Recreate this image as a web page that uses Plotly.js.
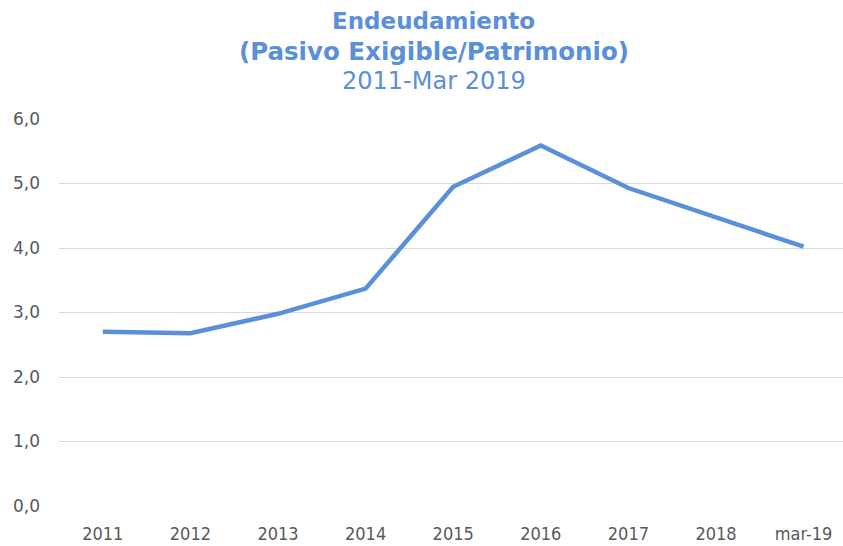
<!DOCTYPE html>
<html>
<head>
<meta charset="utf-8">
<script src="https://cdn.plot.ly/plotly-3.0.1.min.js"></script>
<style>html,body{margin:0;padding:0;background:#fff;}#chart{width:843px;height:546px;}</style>
</head>
<body>
<div id="chart"></div>
<script>
var categories = ["2011","2012","2013","2014","2015","2016","2017","2018","mar-19"];
var endeudamiento = [2.70, 2.68, 2.98, 3.37, 4.95, 5.59, 4.93, 4.47, 4.02];
var yTickVals = [0,1,2,3,4,5,6];
var yTickText = ["0,0","1,0","2,0","3,0","4,0","5,0","6,0"];
var titleLines = ["Endeudamiento","(Pasivo Exigible/Patrimonio)","2011-Mar 2019"];

var blue = "#5a8fd9";
var trace = {
  x: categories.map(function(c, i){ return i; }),
  y: endeudamiento,
  type: "scatter",
  mode: "lines",
  line: {color: blue, width: 4.5},
  hoverinfo: "skip"
};

var titleFont = "DejaVu Sans, Verdana, sans-serif";
var layout = {
  width: 843, height: 546,
  margin: {l: 59, r: 0, t: 119, b: 40},
  paper_bgcolor: "#ffffff",
  plot_bgcolor: "#ffffff",
  showlegend: false,
  font: {family: "DejaVu Sans, Verdana, sans-serif", color: "#595959", size: 14},
  xaxis: {
    range: [-0.5, 8.45],
    tickvals: categories.map(function(c, i){ return i; }),
    ticktext: categories,
    showgrid: false,
    zeroline: false,
    showline: false,
    ticks: "",
    ticklabelstandoff: 15,
    tickfont: {size: 18, color: "#595959", family: "DejaVu Sans Condensed, DejaVu Sans, sans-serif"},
    fixedrange: true
  },
  yaxis: {
    range: [0, 6],
    tickvals: yTickVals,
    ticktext: yTickText,
    showgrid: true,
    gridcolor: "#d9d9d9",
    gridwidth: 1,
    zeroline: false,
    showline: false,
    ticks: "",
    ticklabelstandoff: 18,
    tickfont: {size: 17, color: "#595959"},
    fixedrange: true
  },
  annotations: [
    {text: "<b>" + titleLines[0] + "</b>", xref: "paper", yref: "paper", x: 0.478, y: 1, xanchor: "center", yanchor: "middle",
     yshift: 98, showarrow: false, font: {size: 23, color: blue, family: titleFont}},
    {text: "<b>" + titleLines[1] + "</b>", xref: "paper", yref: "paper", x: 0.478, y: 1, xanchor: "center", yanchor: "middle",
     yshift: 68, showarrow: false, font: {size: 24.5, color: blue, family: titleFont}},
    {text: titleLines[2], xref: "paper", yref: "paper", x: 0.478, y: 1, xanchor: "center", yanchor: "middle",
     yshift: 38, showarrow: false, font: {size: 24, color: blue, family: titleFont}}
  ]
};

Plotly.newPlot("chart", [trace], layout, {displayModeBar: false, staticPlot: true});
</script>
</body>
</html>
